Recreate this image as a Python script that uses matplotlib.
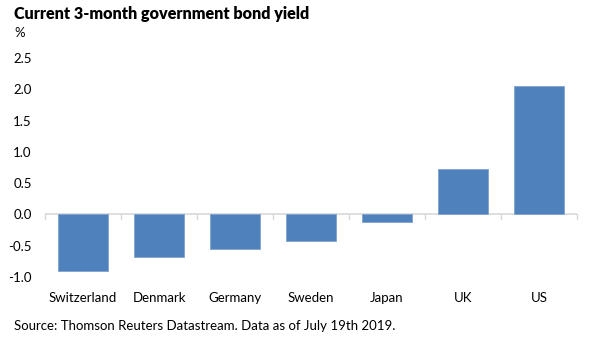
import matplotlib.pyplot as plt
import numpy as np

plt.rcParams['font.family'] = ['Lato', 'DejaVu Sans']

countries = ["Switzerland", "Denmark", "Germany", "Sweden", "Japan", "UK", "US"]
yields = [-0.91, -0.68, -0.56, -0.42, -0.12, 0.73, 2.05]
yticks = [-1.0, -0.5, 0.0, 0.5, 1.0, 1.5, 2.0, 2.5]

W, H = 593, 343
fig = plt.figure(figsize=(W / 100, H / 100), dpi=100)
ax = fig.add_axes([45 / W, (H - 277) / H, 532 / W, 219 / H])

x = np.arange(len(countries))
ax.bar(x, yields, width=0.67, color="#4F81BD", edgecolor="#7FA3D1", linewidth=0.6, zorder=2)

ax.set_xlim(-0.5, len(countries) - 0.5)
ax.set_ylim(-1.0, 2.5)

# zero line with small category separators
ax.axhline(0, color="#D9D9D9", linewidth=1.2, zorder=1)
for b in np.arange(-0.5, len(countries), 1.0):
    ax.plot([b, b], [0, -0.08], color="#D9D9D9", linewidth=1.0, zorder=1, clip_on=False)

for s in ax.spines.values():
    s.set_visible(False)

ax.set_yticks(yticks)
ax.set_yticklabels([f"{v:.1f}" for v in yticks], fontsize=9.5, color="#000000")
ax.tick_params(axis="y", length=0, pad=9.5)

ax.set_xticks(x)
ax.set_xticklabels(countries, fontsize=9.5)
ax.tick_params(axis="x", length=0, pad=11)

fig.text(14 / W, 1 - 14 / H, "Current 3-month government bond yield", fontsize=11.6,
         fontweight="heavy", va="center", ha="left")
fig.text(14 / W, 1 - 33 / H, "%", fontsize=9.5, va="center", ha="left")
fig.text(14 / W, 1 - 326 / H, "Source: Thomson Reuters Datastream. Data as of July 19th 2019.",
         fontsize=9.5, va="center", ha="left")

fig.savefig("out.png", dpi=100)
